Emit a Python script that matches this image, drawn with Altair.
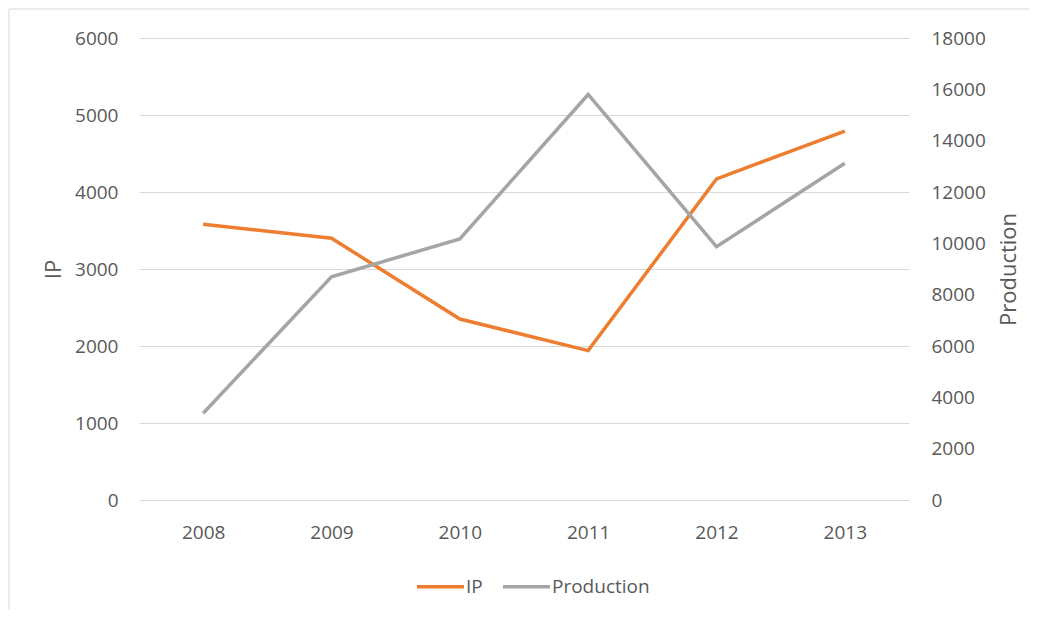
import altair as alt
import pandas as pd

years = ["2008", "2009", "2010", "2011", "2012", "2013"]
ip_values = [3580, 3400, 2350, 1940, 4170, 4790]
production_values = [3380, 8700, 10170, 15800, 9870, 13120]
series_names = ["IP", "Production"]
series_colors = ["#ED7D31", "#A5A5A5"]
ip_ticks = [0, 1000, 2000, 3000, 4000, 5000, 6000]
production_ticks = [0, 2000, 4000, 6000, 8000, 10000, 12000, 14000, 16000, 18000]

rows = []
for y, v in zip(years, ip_values):
    rows.append({"year": y, "series": "IP", "value": v})
for y, v in zip(years, production_values):
    rows.append({"year": y, "series": "Production", "value": v})
df = pd.DataFrame(rows)

FONT = "Open Sans"
TXT = "#595959"
FS = 19
TFS = 22

color = alt.Color(
    "series:N",
    scale=alt.Scale(domain=series_names, range=series_colors),
    legend=alt.Legend(
        title=None,
        orient="none",
        direction="horizontal",
        legendX=276,
        legendY=523,
        symbolType="stroke",
        symbolSize=2209,
        symbolStrokeWidth=3.5,
        labelFontSize=FS,
        labelColor=TXT,
        labelFont=FONT,
        labelOffset=0,
        columnPadding=13,
    ),
)

x = alt.X(
    "year:O",
    scale=alt.Scale(domain=years, padding=0.5),
    axis=alt.Axis(
        title=None,
        labelAngle=0,
        domain=False,
        ticks=False,
        tickSize=0,
        grid=False,
        labelPadding=23,
        labelFontSize=FS,
        labelColor=TXT,
        labelFont=FONT,
    ),
)

base = alt.Chart(df)

ip_line = base.transform_filter(alt.datum.series == "IP").mark_line(strokeWidth=3.5).encode(
    x=x,
    y=alt.Y(
        "value:Q",
        scale=alt.Scale(domain=[0, 6000], nice=False),
        axis=alt.Axis(
            title="IP",
            values=ip_ticks,
            format="d",
            orient="left",
            domain=False,
            ticks=False,
            tickSize=0,
            grid=True,
            gridColor="#D9D9D9",
            gridWidth=1,
            labelPadding=21,
            labelFontSize=FS,
            labelColor=TXT,
            labelFont=FONT,
            titleFontSize=TFS,
            titleColor=TXT,
            titleFont=FONT,
            titleFontWeight="normal",
            titlePadding=9,
        ),
    ),
    color=color,
)

prod_line = base.transform_filter(alt.datum.series == "Production").mark_line(strokeWidth=3.5).encode(
    x=x,
    y=alt.Y(
        "value:Q",
        scale=alt.Scale(domain=[0, 18000], nice=False),
        axis=alt.Axis(
            title="Production",
            values=production_ticks,
            format="d",
            orient="right",
            domain=False,
            ticks=False,
            tickSize=0,
            grid=False,
            labelPadding=22,
            labelFontSize=FS,
            labelColor=TXT,
            labelFont=FONT,
            titleFontSize=TFS,
            titleColor=TXT,
            titleFont=FONT,
            titleFontWeight="normal",
            titleAngle=270,
            titleBaseline="top",
            titlePadding=13,
        ),
    ),
    color=color,
)

frame = pd.DataFrame({"k": [0]})
border_top = alt.Chart(frame).mark_rule(stroke="#D9D9D9", strokeWidth=1).encode(
    x=alt.value(-130),
    x2=alt.value(1000),
    y=alt.value(-29),
)
border_left = alt.Chart(frame).mark_rule(stroke="#D9D9D9", strokeWidth=1).encode(
    x=alt.value(-130),
    y=alt.value(-29),
    y2=alt.value(700),
)

chart = (
    alt.layer(ip_line, prod_line, border_top, border_left)
    .resolve_scale(y="independent")
    .properties(
        width=770,
        height=462,
        autosize=alt.AutoSizeParams(type="none"),
        padding={"left": 131, "top": 30, "right": 120, "bottom": 110},
        background="white",
    )
    .configure_view(stroke=None)
)

chart.save("out.html", embed_options={"renderer": "svg", "actions": False})
